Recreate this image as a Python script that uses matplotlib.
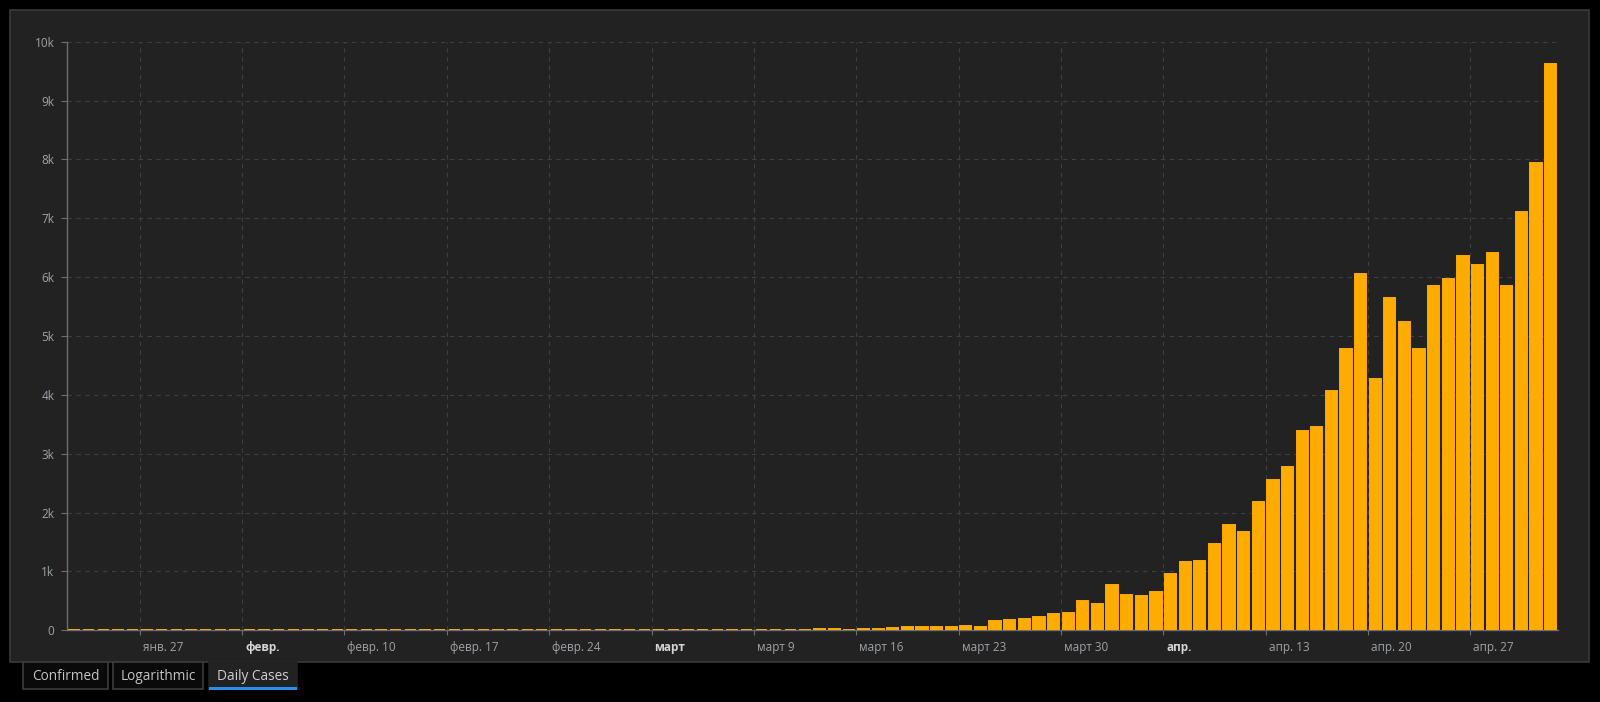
import matplotlib
matplotlib.use("Agg")
import matplotlib.pyplot as plt
import matplotlib.patches as mpatches
import matplotlib.transforms as mtrans
import numpy as np
import pandas as pd

# ---- data -------------------------------------------------------------
dates = pd.date_range("2020-01-22", "2020-05-02", freq="D")
daily_cases = (
    [0] * 9 + [2] +                      # Jan 22 - Jan 31
    [0] * 29 +                           # Feb 1 - Feb 29
    [0, 1, 0, 0, 1, 9, 0, 4, 0, 3, 0, 8, 17, 14, 4, 27, 24, 33, 52, 54, 53,
     61, 71, 57, 163, 182, 196, 228, 270, 302, 501] +               # March
    [440, 771, 601, 582, 658, 954, 1154, 1175, 1459, 1786, 1667, 2186, 2558,
     2774, 3388, 3448, 4070, 4785, 6060, 4268, 5642, 5236, 4774, 5849, 5966,
     6361, 6198, 6411, 5841, 7099] +                                 # April
    [7933, 9623]                                                     # May
)
tick_dates = ["2020-01-27", "2020-02-03", "2020-02-10", "2020-02-17", "2020-02-24",
              "2020-03-02", "2020-03-09", "2020-03-16", "2020-03-23", "2020-03-30",
              "2020-04-06", "2020-04-13", "2020-04-20", "2020-04-27"]
tick_labels = ["янв. 27", "февр.", "февр. 10", "февр. 17", "февр. 24",
               "март", "март 9", "март 16", "март 23", "март 30",
               "апр.", "апр. 13", "апр. 20", "апр. 27"]
bold_labels = ["февр.", "март", "апр."]
y_ticks = [0, 1000, 2000, 3000, 4000, 5000, 6000, 7000, 8000, 9000, 10000]
y_labels = ["0", "1k", "2k", "3k", "4k", "5k", "6k", "7k", "8k", "9k", "10k"]
tabs = ["Confirmed", "Logarithmic", "Daily Cases"]
active_tab = "Daily Cases"

# ---- style -------------------------------------------------------------
plt.rcParams['font.family'] = ['Open Sans', 'DejaVu Sans']
W, H = 1600, 702
BAR = '#ffab00'
PANEL = '#222222'
GRID = '#3e3e3e'
AXC = '#6e6e6e'
TXT = '#9ea3a8'

fig = plt.figure(figsize=(W / 100, H / 100), dpi=100, facecolor='black')


def fx(x):
    return x / W


def fy(y):
    return 1 - y / H


# panel
fig.patches.append(mpatches.Rectangle((fx(10), fy(662)), fx(1579), 652 / H,
                                      transform=fig.transFigure, facecolor=PANEL,
                                      edgecolor='#3a3a3a', linewidth=1.2, zorder=-5))

ax = fig.add_axes([fx(66.7), fy(630.3), fx(1558 - 66.7), (630.3 - 41.7) / H])
ax.set_zorder(5)
ax.patch.set_alpha(0)

x0 = dates[0]
xidx = np.array([(d - x0).days for d in dates], dtype=float)
tick_pos = [(pd.Timestamp(t) - x0).days for t in tick_dates]

ax.bar(xidx + 0.5, daily_cases, width=0.77, color=BAR, edgecolor=BAR,
       linewidth=1.4, zorder=3)

ax.set_xlim(0, len(dates))
ax.set_ylim(0, 10000)

ax.set_yticks(y_ticks)
ax.set_yticklabels(y_labels)
ax.set_xticks(tick_pos)
ax.set_xticklabels(tick_labels, ha='left')

for lab in ax.get_xticklabels():
    if lab.get_text() in bold_labels:
        lab.set_fontweight('bold')
        lab.set_color('#d4d4d4')
    else:
        lab.set_color(TXT)
for lab in ax.get_yticklabels():
    lab.set_color(TXT)

ax.tick_params(axis='y', length=4.3, width=0.8, color=AXC, pad=4.5, labelsize=8.5)
ax.tick_params(axis='x', length=3.5, width=0.8, color=AXC, pad=4.5, labelsize=8.5)
offset = mtrans.ScaledTranslation(3 / 100, 0, fig.dpi_scale_trans)
for lab in ax.get_xticklabels():
    lab.set_transform(lab.get_transform() + offset)

ax.grid(True, color=GRID, linestyle=(0, (4, 4)), linewidth=0.8, zorder=1)
ax.set_axisbelow(True)

for s in ['top', 'right']:
    ax.spines[s].set_visible(False)
ax.spines['left'].set_color(AXC)
ax.spines['bottom'].set_color(AXC)
ax.spines['left'].set_linewidth(1.0)
ax.spines['bottom'].set_linewidth(1.0)
ax.spines['bottom'].set_zorder(2)

# ---- tabs -------------------------------------------------------------
tab_boxes = [(23, 108), (113, 203), (209, 297)]
for name, (xa, xb) in zip(tabs, tab_boxes):
    active = (name == active_tab)
    fig.patches.append(mpatches.Rectangle((fx(xa), fy(689)), fx(xb - xa), 27 / H,
                                          transform=fig.transFigure,
                                          facecolor=PANEL if active else '#0a0a0a',
                                          edgecolor='#3c3c3c' if not active else PANEL,
                                          linewidth=1.2, zorder=1))
    if active:
        fig.patches.append(mpatches.Rectangle((fx(xa), fy(689.5)), fx(xb - xa), 2.5 / H,
                                              transform=fig.transFigure,
                                              facecolor='#2a8fe8', edgecolor='none',
                                              zorder=2))
    fig.text(fx((xa + xb) / 2), fy(676), name, ha='center', va='center',
             fontsize=9.8, color='#d0d0d0' if active else '#c4c4c4', zorder=3)

fig.savefig("out.png", dpi=100, facecolor='black')
